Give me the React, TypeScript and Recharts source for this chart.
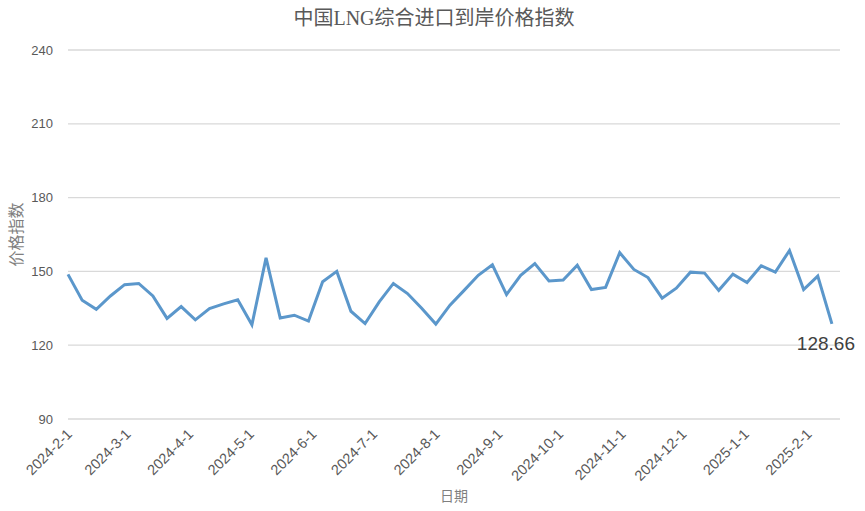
import React from "react";
import { LineChart, Line, XAxis, YAxis, CartesianGrid, Label, LabelList } from "recharts";

const dates: string[] = [
  "2024-02-01", "2024-02-08", "2024-02-15", "2024-02-22", "2024-02-29",
  "2024-03-07", "2024-03-14", "2024-03-21", "2024-03-28",
  "2024-04-04", "2024-04-11", "2024-04-18", "2024-04-25",
  "2024-05-02", "2024-05-09", "2024-05-16", "2024-05-23", "2024-05-30",
  "2024-06-06", "2024-06-13", "2024-06-20", "2024-06-27",
  "2024-07-04", "2024-07-11", "2024-07-18", "2024-07-25",
  "2024-08-01", "2024-08-08", "2024-08-15", "2024-08-22", "2024-08-29",
  "2024-09-05", "2024-09-12", "2024-09-19", "2024-09-26",
  "2024-10-03", "2024-10-10", "2024-10-17", "2024-10-24", "2024-10-31",
  "2024-11-07", "2024-11-14", "2024-11-21", "2024-11-28",
  "2024-12-05", "2024-12-12", "2024-12-19", "2024-12-26",
  "2025-01-02", "2025-01-09", "2025-01-16", "2025-01-23", "2025-01-30",
  "2025-02-06", "2025-02-13",
];

const priceIndex: number[] = [
  148.8, 138.3, 134.6, 140.0, 144.6,
  145.1, 140.0, 130.9, 135.7,
  130.3, 134.9, 136.8, 138.5,
  128.3, 155.5, 131.1, 132.2, 129.8,
  145.8, 150.0, 133.8, 128.8,
  137.6, 145.1, 141.0, 135.0,
  128.6, 136.3, 142.3, 148.4, 152.7,
  140.6, 148.4, 153.2, 146.1,
  146.5, 152.5, 142.6, 143.5, 157.6,
  150.8, 147.5, 139.1, 143.2,
  149.7, 149.3, 142.3, 148.9,
  145.5, 152.3, 149.7, 158.5, 142.6,
  148.1, 128.66,
];

const monthTicks: string[] = [
  "2024-02-01", "2024-03-01", "2024-04-01", "2024-05-01", "2024-06-01", "2024-07-01",
  "2024-08-01", "2024-09-01", "2024-10-01", "2024-11-01", "2024-12-01", "2025-01-01", "2025-02-01",
];

const yTicks: number[] = [90, 120, 150, 180, 210, 240];

const axisStart = "2024-02-01";
const axisEnd = "2025-02-17";

const DAY = 86400000;
const toDay = (s: string) => Math.round((Date.parse(s + "T00:00:00Z") - Date.parse(axisStart + "T00:00:00Z")) / DAY);
const fmtDate = (s: string) => {
  const [y, m, d] = s.split("-");
  return `${y}-${parseInt(m, 10)}-${parseInt(d, 10)}`;
};

const data = dates.map((d, i) => ({ day: toDay(d), value: priceIndex[i] }));
const tickDays = monthTicks.map(toDay);
const tickLabelByDay: Record<number, string> = {};
monthTicks.forEach((t) => (tickLabelByDay[toDay(t)] = fmtDate(t)));

const XTick = (props: any) => {
  const { x, y, payload } = props;
  return (
    <g transform={`translate(${x + 5},${y + 8})`}>
      <text
        x={0}
        y={0}
        transform="rotate(-45)"
        textAnchor="end"
        fill="#595959"
        fontSize={14.5}
        fontFamily="Liberation Sans, Arial, sans-serif"
      >
        {tickLabelByDay[payload.value]}
      </text>
    </g>
  );
};

const LastLabel = (props: any) => {
  const { x, y, index, value } = props;
  if (index !== data.length - 1) return null;
  return (
    <text
      x={x - 6}
      y={y + 26}
      textAnchor="middle"
      fill="#404040"
      fontSize={19}
      fontFamily="Liberation Sans, Arial, sans-serif"
    >
      {value}
    </text>
  );
};

export default function App() {
  return (
    <div style={{ position: "absolute", left: 0, top: 0, width: 865, height: 511, background: "#fff" }}>
      <LineChart width={865} height={511} data={data} margin={{ top: 50, right: 25, bottom: 0, left: 0 }}>
        <text
          x={434}
          y={25}
          textAnchor="middle"
          fill="#595959"
          fontSize={20}
          fontFamily="Liberation Serif, Noto Sans CJK SC, serif"
        >
          中国LNG综合进口到岸价格指数
        </text>
        <CartesianGrid vertical={false} stroke="#d9d9d9" strokeWidth={1.3} />
        <XAxis
          dataKey="day"
          type="number"
          domain={[0, toDay(axisEnd)]}
          ticks={tickDays}
          interval={0}
          tick={<XTick />}
          tickLine={false}
          axisLine={false}
          height={92}
        >
          <Label
            value="日期"
            position="insideBottom"
            offset={10}
            fill="#7f7f7f"
            fontSize={14}
            fontFamily="Noto Sans CJK SC, sans-serif"
          />
        </XAxis>
        <YAxis
          domain={[90, 240]}
          ticks={yTicks}
          interval={0}
          width={68}
          tickLine={false}
          axisLine={false}
          tickSize={6}
          tickMargin={9}
          tick={{ fill: "#595959", fontSize: 13, fontFamily: "Liberation Sans, Arial, sans-serif" }}
        >
          <Label
            value="价格指数"
            angle={-90}
            position="insideLeft"
            offset={16}
            fill="#7f7f7f"
            fontSize={16}
            fontFamily="Liberation Serif, Noto Sans CJK SC, serif"
            style={{ textAnchor: "middle" }}
          />
        </YAxis>
        <Line
          type="linear"
          dataKey="value"
          stroke="#5B97CB"
          strokeWidth={3}
          dot={false}
          isAnimationActive={false}
        >
          <LabelList dataKey="value" content={<LastLabel />} />
        </Line>
      </LineChart>
    </div>
  );
}
